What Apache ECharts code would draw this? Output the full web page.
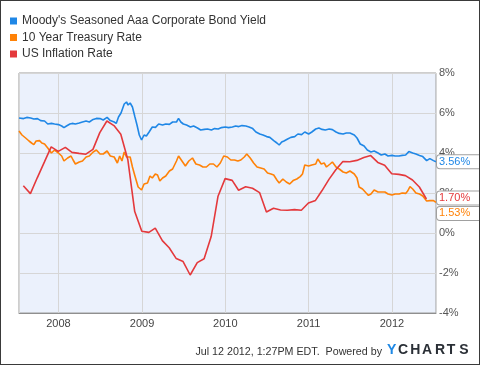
<!DOCTYPE html>
<html>
<head>
<meta charset="utf-8">
<script src="https://cdn.jsdelivr.net/npm/echarts@6/dist/echarts.min.js"></script>
<style>
html,body{margin:0;padding:0;background:#fff;}
#chart{width:478px;height:363px;border:1px solid #3a3a3a;}
</style>
</head>
<body>
<div id="chart"></div>
<script>
// Series names
const seriesNames = ["Moody's Seasoned Aaa Corporate Bond Yield", "10 Year Treasury Rate", "US Inflation Rate"];

// Moody's Aaa yield (%)
const aaaDates = ["2007-07-12","2007-07-20","2007-08-01","2007-08-15","2007-09-01","2007-09-15","2007-10-01","2007-10-15","2007-11-01","2007-11-15","2007-12-01","2007-12-15","2008-01-01","2008-01-15","2008-01-25","2008-02-05","2008-02-20","2008-03-01","2008-03-15","2008-04-01","2008-04-15","2008-05-01","2008-05-15","2008-06-01","2008-06-15","2008-07-01","2008-07-15","2008-08-01","2008-08-15","2008-09-01","2008-09-10","2008-09-20","2008-10-01","2008-10-15","2008-10-25","2008-11-01","2008-11-10","2008-11-20","2008-12-01","2008-12-10","2008-12-20","2008-12-30","2009-01-10","2009-01-20","2009-02-01","2009-02-15","2009-03-01","2009-03-15","2009-04-01","2009-04-15","2009-05-01","2009-05-15","2009-06-01","2009-06-10","2009-06-20","2009-07-01","2009-07-15","2009-08-01","2009-08-15","2009-09-01","2009-09-15","2009-10-01","2009-10-15","2009-11-01","2009-11-15","2009-12-01","2009-12-15","2010-01-01","2010-01-15","2010-02-01","2010-02-15","2010-03-01","2010-03-15","2010-04-01","2010-04-15","2010-05-01","2010-05-15","2010-06-01","2010-06-15","2010-07-01","2010-07-15","2010-08-01","2010-08-15","2010-08-25","2010-09-05","2010-09-15","2010-10-01","2010-10-15","2010-11-01","2010-11-15","2010-12-01","2010-12-15","2011-01-01","2011-01-15","2011-02-01","2011-02-15","2011-03-01","2011-03-15","2011-04-01","2011-04-15","2011-05-01","2011-05-15","2011-06-01","2011-06-15","2011-07-01","2011-07-08","2011-07-20","2011-08-01","2011-08-15","2011-09-01","2011-09-15","2011-10-01","2011-10-15","2011-11-01","2011-11-15","2011-12-01","2011-12-15","2012-01-01","2012-01-15","2012-02-01","2012-02-15","2012-03-01","2012-03-15","2012-04-01","2012-04-15","2012-05-01","2012-05-15","2012-06-01","2012-06-15","2012-07-01","2012-07-12"];
const aaaValues = [5.75,5.85,5.72,5.78,5.75,5.70,5.72,5.62,5.60,5.45,5.48,5.45,5.42,5.35,5.27,5.35,5.45,5.48,5.45,5.50,5.55,5.60,5.55,5.68,5.73,5.72,5.65,5.78,5.62,5.55,5.48,5.80,6.00,6.45,6.55,6.40,6.50,6.30,5.80,5.40,4.90,4.65,4.90,4.85,5.05,5.30,5.28,5.45,5.40,5.45,5.43,5.55,5.55,5.73,5.55,5.45,5.40,5.30,5.35,5.25,5.15,5.18,5.20,5.15,5.22,5.20,5.27,5.30,5.27,5.30,5.35,5.32,5.37,5.35,5.30,5.22,5.05,4.95,4.90,4.82,4.78,4.62,4.50,4.40,4.55,4.60,4.70,4.78,4.82,4.95,4.92,5.05,4.95,5.05,5.20,5.25,5.18,5.15,5.20,5.17,5.05,4.98,4.95,5.00,5.00,5.10,4.90,4.75,4.45,4.35,4.15,4.05,4.10,4.00,3.90,3.95,3.85,3.88,3.85,3.85,3.88,3.90,4.07,4.00,3.95,3.88,3.82,3.62,3.72,3.62,3.56];

// 10 Year Treasury rate (%)
const tsyDates = ["2007-07-12","2007-07-25","2007-08-10","2007-08-25","2007-09-05","2007-09-15","2007-09-25","2007-10-10","2007-10-20","2007-11-01","2007-11-15","2007-12-01","2007-12-15","2008-01-01","2008-01-15","2008-01-25","2008-02-10","2008-02-25","2008-03-05","2008-03-15","2008-04-01","2008-04-15","2008-05-01","2008-05-15","2008-06-01","2008-06-15","2008-07-01","2008-07-15","2008-08-01","2008-08-15","2008-09-01","2008-09-15","2008-09-25","2008-10-05","2008-10-15","2008-10-25","2008-11-10","2008-11-20","2008-12-01","2008-12-15","2008-12-30","2009-01-10","2009-01-25","2009-02-05","2009-02-15","2009-02-28","2009-03-10","2009-03-20","2009-04-01","2009-04-15","2009-05-01","2009-05-15","2009-06-01","2009-06-10","2009-06-25","2009-07-10","2009-07-25","2009-08-10","2009-08-25","2009-09-10","2009-09-25","2009-10-10","2009-10-25","2009-11-10","2009-11-25","2009-12-10","2009-12-25","2010-01-10","2010-01-25","2010-02-10","2010-02-25","2010-03-10","2010-03-25","2010-04-05","2010-04-20","2010-05-05","2010-05-20","2010-06-05","2010-06-20","2010-07-05","2010-07-20","2010-08-01","2010-08-15","2010-08-25","2010-09-10","2010-09-25","2010-10-10","2010-10-25","2010-11-10","2010-11-25","2010-12-05","2010-12-15","2011-01-01","2011-01-15","2011-02-01","2011-02-10","2011-02-25","2011-03-10","2011-03-20","2011-04-05","2011-04-15","2011-05-01","2011-05-15","2011-06-01","2011-06-15","2011-07-01","2011-07-08","2011-07-20","2011-08-01","2011-08-10","2011-08-25","2011-09-10","2011-09-20","2011-10-01","2011-10-15","2011-11-01","2011-11-15","2011-12-01","2011-12-15","2012-01-01","2012-01-15","2012-02-01","2012-02-15","2012-03-01","2012-03-10","2012-03-20","2012-04-01","2012-04-15","2012-05-01","2012-05-15","2012-06-01","2012-06-15","2012-07-01","2012-07-12"];
const tsyValues = [5.10,4.90,4.75,4.60,4.50,4.42,4.60,4.62,4.50,4.45,4.25,4.00,4.15,4.00,3.85,3.60,3.75,3.85,3.65,3.45,3.55,3.60,3.80,3.85,4.05,4.15,3.95,3.95,4.10,3.85,3.80,3.50,3.85,3.60,4.05,3.80,3.80,3.30,2.85,2.30,2.15,2.45,2.50,2.85,2.75,2.95,2.90,2.60,2.75,2.85,3.10,3.20,3.60,3.85,3.60,3.35,3.60,3.75,3.45,3.40,3.30,3.30,3.45,3.45,3.30,3.50,3.85,3.80,3.65,3.65,3.60,3.65,3.80,3.95,3.75,3.50,3.30,3.25,3.20,3.00,2.95,2.90,2.65,2.50,2.70,2.55,2.45,2.62,2.70,2.82,2.95,3.40,3.35,3.40,3.45,3.70,3.45,3.50,3.30,3.45,3.55,3.30,3.20,3.05,3.00,3.10,3.15,2.95,2.75,2.30,2.20,2.00,1.88,1.95,2.15,2.05,2.05,2.05,1.95,1.90,1.95,1.95,2.00,1.98,2.10,2.32,2.20,2.00,1.95,1.85,1.60,1.62,1.62,1.53];

// US inflation rate (%), monthly
const cpiDates = ["2007-07-31","2007-08-31","2007-09-30","2007-10-31","2007-11-30","2007-12-31","2008-01-31","2008-02-29","2008-03-31","2008-04-30","2008-05-31","2008-06-30","2008-07-31","2008-08-31","2008-09-30","2008-10-31","2008-11-30","2008-12-31","2009-01-31","2009-02-28","2009-03-31","2009-04-30","2009-05-31","2009-06-30","2009-07-31","2009-08-31","2009-09-30","2009-10-31","2009-11-30","2009-12-31","2010-01-31","2010-02-28","2010-03-31","2010-04-30","2010-05-31","2010-06-30","2010-07-31","2010-08-31","2010-09-30","2010-10-31","2010-11-30","2010-12-31","2011-01-31","2011-02-28","2011-03-31","2011-04-30","2011-05-31","2011-06-30","2011-07-31","2011-08-31","2011-09-30","2011-10-31","2011-11-30","2011-12-31","2012-01-31","2012-02-29","2012-03-31","2012-04-30","2012-05-31"];
const cpiValues = [2.36,1.97,2.76,3.54,4.31,4.08,4.28,4.03,3.98,3.94,4.18,5.02,5.60,5.37,4.94,3.66,1.07,0.09,0.03,0.24,-0.38,-0.74,-1.28,-1.43,-2.10,-1.48,-1.29,-0.18,1.84,2.72,2.63,2.14,2.31,2.24,2.02,1.05,1.24,1.15,1.14,1.17,1.14,1.50,1.63,2.11,2.68,3.16,3.57,3.56,3.63,3.77,3.87,3.53,3.39,2.96,2.93,2.87,2.65,2.30,1.70];

// Axis
const xStart = "2007-07-12";
const xEnd = "2012-07-12";
const yMin = -4, yMax = 8, yStep = 2;
const footerText = "Jul 12 2012, 1:27PM EDT.  Powered by";

const colors = ['#1f87e6', '#ff8207', '#e4393c'];

function pairs(d, v) { return d.map((x, i) => [x, v[i]]); }

const chart = echarts.init(document.getElementById('chart'));

function endLabel(series, vals, offset) {
  return {
    symbol: 'circle', symbolSize: 0, silent: true,
    label: {
      show: true, position: 'right', distance: 1, offset: offset,
      formatter: p => p.value.toFixed(2) + '%',
      color: series, fontSize: 11, fontFamily: 'Liberation Sans, Arial, sans-serif',
      backgroundColor: '#fff', borderColor: '#a0a0a0', borderWidth: 1, borderRadius: 3,
      padding: [1, 14, 0, 2], lineHeight: 12
    },
    data: [{ coord: [xEnd, vals[vals.length - 1]], value: vals[vals.length - 1] }]
  };
}

const letters = ['Y','C','H','A','R','T','S'];
const letterX = [391.7,403,415.3,427,440,451,463.8];

const option = {
  animation: false,
  backgroundColor: '#fff',
  textStyle: { fontFamily: 'Liberation Sans, Arial, sans-serif' },
  legend: {
    orient: 'vertical', left: 9, top: 13, padding: 0,
    icon: 'rect', itemWidth: 7, itemHeight: 7, itemGap: 2.5,
    textStyle: { fontSize: 12, color: '#333', lineHeight: 14, padding: [0,0,0,0] },
    data: seriesNames
  },
  grid: {
    left: 18, right: 43, top: 72, bottom: 51, show: true,
    backgroundColor: '#ebf1fc', borderColor: '#9c9c9c', borderWidth: 1
  },
  xAxis: {
    type: 'time', min: xStart, max: xEnd,
    minInterval: 365 * 24 * 3600 * 1000,
    splitNumber: 5,
    axisLine: { show: true, onZero: false, lineStyle: { color: '#8f8f8f' } },
    axisTick: { show: false },
    axisLabel: { color: '#444', fontSize: 11, margin: 5, formatter: '{yyyy}', showMinLabel: false, showMaxLabel: false },
    splitLine: { show: true, lineStyle: { color: '#d6d6d6', width: 1 } }
  },
  yAxis: {
    type: 'value', position: 'right', min: yMin, max: yMax, interval: yStep,
    axisLine: { show: false }, axisTick: { show: false },
    axisLabel: { color: '#555', fontSize: 11, margin: 3, formatter: '{value}%' },
    splitLine: { show: true, lineStyle: { color: '#d6d6d6', width: 1 } }
  },
  series: [
    { name: seriesNames[0], type: 'line', data: pairs(aaaDates, aaaValues), showSymbol: false,
      lineStyle: { width: 1.6, color: colors[0] }, itemStyle: { color: colors[0] },
      markPoint: endLabel(colors[0], aaaValues, [0, 0]) },
    { name: seriesNames[1], type: 'line', data: pairs(tsyDates, tsyValues), showSymbol: false,
      lineStyle: { width: 1.6, color: colors[1] }, itemStyle: { color: colors[1] },
      markPoint: endLabel(colors[1], tsyValues, [0, 11]) },
    { name: seriesNames[2], type: 'line', data: pairs(cpiDates, cpiValues), showSymbol: false,
      lineStyle: { width: 1.6, color: colors[2] }, itemStyle: { color: colors[2] },
      markPoint: endLabel(colors[2], cpiValues, [0, -1]) }
  ],
  graphic: [
    { type: 'text', right: 97, top: 345.5, style: { text: footerText, fontSize: 10.7, fill: '#333', fontFamily: 'Liberation Sans, Arial, sans-serif' } }
  ].concat(letters.map((l, i) => ({
    type: 'text', x: letterX[i] - 1, y: 349.5,
    style: { text: l, fontSize: 14, fontWeight: 'bold', fill: i === 0 ? '#1e88e5' : '#2a2f36', align: 'center', verticalAlign: 'middle', fontFamily: 'Liberation Sans, Arial, sans-serif' }
  })))
};
chart.setOption(option);
</script>
</body>
</html>
